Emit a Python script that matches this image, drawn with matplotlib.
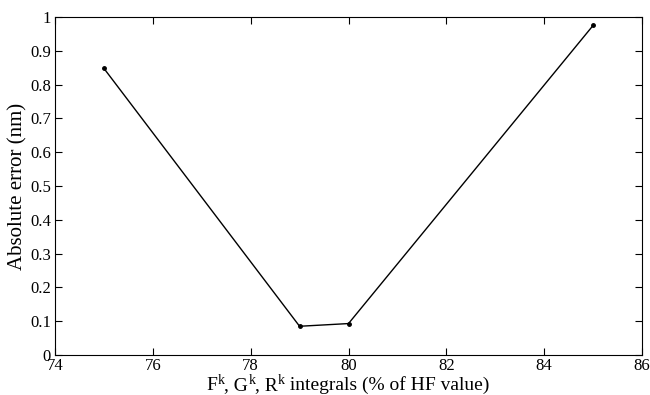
import matplotlib
matplotlib.use('Agg')
import matplotlib.pyplot as plt

# Scaling factor for the integrals (% of HF value) and resulting error
scaling = [75, 79, 80, 85]
abs_error = [0.848, 0.085, 0.093, 0.975]

x_ticks = [74, 76, 78, 80, 82, 84, 86]
y_ticks = [0, 0.1, 0.2, 0.3, 0.4, 0.5, 0.6, 0.7, 0.8, 0.9, 1]
y_labels = ['0', '0.1', '0.2', '0.3', '0.4', '0.5', '0.6', '0.7', '0.8', '0.9', '1']

# x label pieces: (text, is_superscript)
xlabel_parts = [('F', False), ('k', True), (', G', False), ('k', True),
                (', R', False), ('k', True), (' integrals (% of HF value)', False)]

plt.rcParams['font.family'] = 'Liberation Serif'

W, H = 650, 395
fig = plt.figure(figsize=(6.5, 3.95), dpi=100)
ax = fig.add_axes([55 / W, 1 - 355 / H, 587 / W, 338 / H])

ax.plot(scaling, abs_error, color='black', linewidth=1.0, marker='o', markersize=2.5)

ax.set_xlim(74, 86)
ax.set_ylim(0, 1)
ax.set_xticks(x_ticks)
ax.set_yticks(y_ticks)
ax.set_yticklabels(y_labels)
ax.tick_params(direction='in', top=True, right=True, labelsize=12, length=5, width=0.8, pad=3)
ax.tick_params(axis='x', pad=2)
for s in ax.spines.values():
    s.set_linewidth(0.8)

# x label assembled from plain text runs so the superscripts stay small
renderer = fig.canvas.get_renderer()
texts = []
for s, sup in xlabel_parts:
    t = fig.text(0, 0, s, fontsize=10 if sup else 14, ha='left', va='baseline')
    texts.append((t, sup))
widths = [t.get_window_extent(renderer).width for t, _ in texts]
x = 348 - sum(widths) / 2
base = 390
for (t, sup), w in zip(texts, widths):
    t.set_position((x / W, 1 - (base - (6 if sup else 0)) / H))
    x += w

ax.set_ylabel('Absolute error (nm)', fontsize=15)
ax.yaxis.set_label_coords(-28 / 587, 0.5)

fig.savefig('out.png', dpi=100)
